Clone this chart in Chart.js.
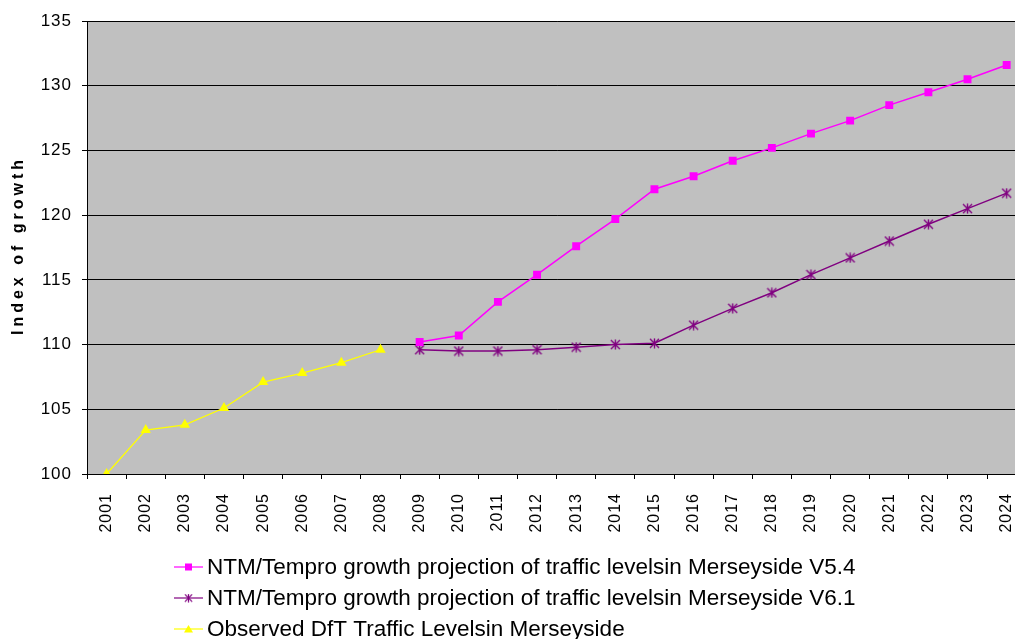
<!DOCTYPE html>
<html><head><meta charset="utf-8">
<script src="https://cdn.jsdelivr.net/npm/chart.js@4/dist/chart.umd.min.js"></script>
<style>
html,body{margin:0;padding:0;overflow:hidden;background:#fff;width:1015px;height:639px}
#c{position:absolute;left:0;top:0}
</style></head>
<body><canvas id="c" width="1040" height="639"></canvas>
<script>
const years = ["2001","2002","2003","2004","2005","2006","2007","2008","2009","2010","2011","2012","2013","2014","2015","2016","2017","2018","2019","2020","2021","2022","2023","2024"];
const observed = [100,103.4,103.8,105.1,107.1,107.8,108.6,109.6,null,null,null,null,null,null,null,null,null,null,null,null,null,null,null,null];
const projV54 = [null,null,null,null,null,null,null,null,110.2,110.7,113.3,115.4,117.6,119.7,122.0,123.0,124.2,125.2,126.3,127.3,128.5,129.5,130.5,131.6];
const projV61 = [null,null,null,null,null,null,null,null,109.6,109.5,109.5,109.6,109.8,110.0,110.1,111.5,112.8,114.0,115.4,116.7,118.0,119.3,120.5,121.7];
const seriesNames = [
  "NTM/Tempro growth projection of traffic levelsin Merseyside V5.4",
  "NTM/Tempro growth projection of traffic levelsin Merseyside V6.1",
  "Observed DfT Traffic Levelsin Merseyside"
];
const yMin = 100, yMax = 135, yStep = 5;
const yTitle = "Index of growth";
const FONT = '"Liberation Sans", Arial, sans-serif';

function starMarker(color){
  const s = 11, c = document.createElement('canvas');
  c.width = s; c.height = s;
  const x = c.getContext('2d');
  x.strokeStyle = color; x.lineWidth = 1.4;
  x.beginPath();
  x.moveTo(1,1); x.lineTo(s-1,s-1);
  x.moveTo(s-1,1); x.lineTo(1,s-1);
  x.moveTo(s/2,0.5); x.lineTo(s/2,s-0.5);
  x.stroke();
  return c;
}
const star = starMarker('#800080');

const bgPlugin = {
  id:'bg',
  beforeDraw(chart){
    const {ctx, chartArea:a} = chart;
    ctx.save(); ctx.fillStyle = '#C0C0C0';
    ctx.fillRect(a.left, a.top, a.right-a.left, a.bottom-a.top);
    ctx.restore();
    ctx.letterSpacing = '1px';
  }
};

const legendPlugin = {
  id:'customLegend',
  afterDraw(chart){
    const ctx = chart.ctx;
    const a = chart.chartArea;
    ctx.save();
    ctx.letterSpacing = '4px';
    ctx.translate(19, (a.top + a.bottom)/2);
    ctx.rotate(-Math.PI/2);
    ctx.fillStyle = '#000';
    ctx.font = 'bold 16px ' + FONT;
    ctx.textAlign = 'center'; ctx.textBaseline = 'middle';
    ctx.fillText(yTitle, 2, 0);
    ctx.restore();

    const x0 = 174, x1 = 203, tx = 207, y0 = 567, dy = 31;
    chart.data.datasets.forEach((ds, i) => {
      const y = y0 + i*dy;
      ctx.save();
      ctx.letterSpacing = '0px';
      ctx.strokeStyle = ds.borderColor; ctx.lineWidth = 1.2;
      ctx.beginPath(); ctx.moveTo(x0, y); ctx.lineTo(x1, y); ctx.stroke();
      const cx = (x0+x1)/2;
      if (ds.pointStyle === 'rect') {
        ctx.fillStyle = ds.pointBackgroundColor;
        ctx.fillRect(cx-3.5, y-3.5, 7, 7);
      } else if (ds.pointStyle === 'triangle') {
        ctx.fillStyle = ds.pointBackgroundColor;
        ctx.beginPath(); ctx.moveTo(cx, y-4); ctx.lineTo(cx+4.5, y+3.5); ctx.lineTo(cx-4.5, y+3.5); ctx.closePath(); ctx.fill();
      } else {
        ctx.drawImage(ds.pointStyle, cx-4.5, y-4.5, 9, 9);
      }
      ctx.fillStyle = '#000';
      ctx.font = '22.5px ' + FONT;
      ctx.textBaseline = 'middle'; ctx.textAlign = 'left';
      ctx.fillText(ds.label, tx, y+1);
      ctx.restore();
    });
  }
};

new Chart(document.getElementById('c'), {
  type:'line',
  data:{
    labels: years,
    datasets:[
      {label:seriesNames[0], data:projV54, borderColor:'#FF00FF', backgroundColor:'#FF00FF',
       pointStyle:'rect', pointRadius:5.6, pointBackgroundColor:'#FF00FF', pointBorderColor:'#FF00FF', pointBorderWidth:0, borderWidth:1.5, tension:0},
      {label:seriesNames[1], data:projV61, borderColor:'#800080', backgroundColor:'#800080',
       pointStyle:star, pointRadius:5, pointBackgroundColor:'#800080', pointBorderColor:'#800080', borderWidth:1.5, tension:0},
      {label:seriesNames[2], data:observed, borderColor:'#FFFF00', backgroundColor:'#FFFF00',
       pointStyle:'triangle', pointRadius:6, pointBackgroundColor:'#FFFF00', pointBorderColor:'#FFFF00', pointBorderWidth:0, borderWidth:1.3, tension:0}
    ]
  },
  options:{
    responsive:false, animation:false, devicePixelRatio:1,
    layout:{padding:{left:0, top:21, right:3, bottom:100}},
    plugins:{legend:{display:false}, tooltip:{enabled:false}},
    scales:{
      x:{
        offset:true,
        grid:{offset:true, drawOnChartArea:false, drawTicks:true, tickLength:5, color:'#000', lineWidth:1},
        border:{color:'#000', width:1},
        ticks:{autoSkip:false, maxRotation:90, minRotation:90, padding:14, color:'#000',
               font:{family:FONT, size:16}},
        afterFit(s){ s.height = 639 - 474 - 100; }
      },
      y:{
        min:yMin, max:yMax,
        grid:{color:'#000', lineWidth:1, tickLength:5, drawTicks:true},
        border:{color:'#000', width:1},
        ticks:{stepSize:yStep, padding:10, color:'#000',
               font:{family:FONT, size:17}},
        afterFit(s){ s.width = 87; }
      }
    }
  },
  plugins:[bgPlugin, legendPlugin]
});
</script>
</body></html>
